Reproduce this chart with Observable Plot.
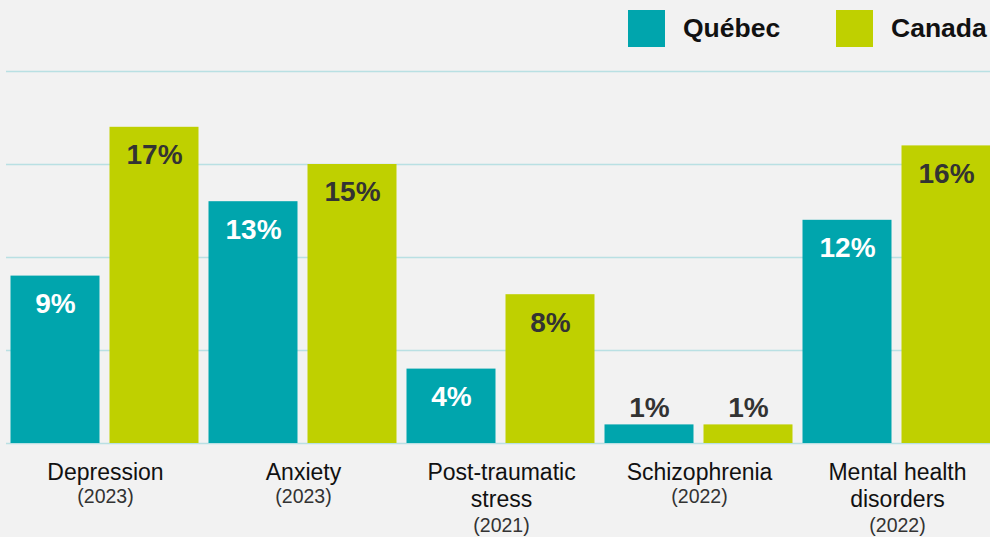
<!DOCTYPE html>
<html><head><meta charset="utf-8">
<script src="https://cdn.jsdelivr.net/npm/d3@7"></script>
<script src="https://cdn.jsdelivr.net/npm/@observablehq/plot@0.6"></script>
<style>
html,body{margin:0;padding:0;background:#f2f2f2;overflow:hidden;}
#wrap{width:990px;height:537px;overflow:hidden;position:relative;font-family:"Liberation Sans",Arial,Helvetica,sans-serif;}
#legend{position:relative;height:56px;}
.sw{position:absolute;top:10px;width:37px;height:37px;}
.lt{position:absolute;top:15px;font-size:26.5px;line-height:26px;font-weight:bold;color:#111;white-space:nowrap;}
#chart svg{display:block;}
</style></head>
<body><div id="wrap"><div id="legend"></div><div id="chart"></div></div>
<script>
// ---- data ----
const categories = ["Depression", "Anxiety", "Post-traumatic stress", "Schizophrenia", "Mental health disorders"];
const names = ["Depression", "Anxiety", "Post-traumatic\nstress", "Schizophrenia", "Mental health\ndisorders"];
const years = ["(2023)", "(2023)", "(2021)", "(2022)", "(2022)"];
const series = ["Québec", "Canada"];
const quebec = [9, 13, 4, 1, 12];
const canada = [17, 15, 8, 1, 16];
const gridTicks = [0, 5, 10, 15, 20];
const colors = ["#00a5ad", "#bfd000"];

// ---- tables ----
const rows = categories.flatMap((c, i) => [
  {cat: c, series: series[0], value: quebec[i]},
  {cat: c, series: series[1], value: canada[i]}
]);
const labels = categories.map((c, i) => ({cat: c, name: names[i], year: years[i], lines: names[i].split("\n").length}));

// ---- legend ----
const legend = document.getElementById("legend");
const legendPos = [[628, 683], [836, 891]];
series.forEach((s, i) => {
  const sw = document.createElement("div");
  sw.className = "sw"; sw.style.left = legendPos[i][0] + "px"; sw.style.background = colors[i];
  const t = document.createElement("div");
  t.className = "lt"; t.style.left = legendPos[i][1] + "px"; t.textContent = s;
  legend.append(sw, t);
});

const font = "Liberation Sans, Arial, Helvetica, sans-serif";
const inside = d => d.value >= 3;

const chart = Plot.plot({
  width: 990,
  height: 481,
  marginTop: 15,
  marginBottom: 94,
  marginLeft: 5.5,
  marginRight: -6,
  style: {background: "transparent", fontFamily: font, overflow: "visible"},
  fx: {domain: categories, padding: 0, axis: null},
  x: {domain: series, paddingInner: 0.101, paddingOuter: 0.05, axis: null},
  y: {domain: [0, 20], axis: null},
  color: {domain: series, range: colors},
  marks: [
    Plot.ruleY(gridTicks, {stroke: "#b9e0e3", strokeWidth: 1.5}),
    Plot.barY(rows, {fx: "cat", x: "series", y: "value", fill: "series"}),
    Plot.text(rows.filter(d => d.series === series[0] && inside(d)), {
      fx: "cat", x: "series", y: "value", text: d => d.value + "%",
      dy: 28, fill: "white", fontSize: 28, fontWeight: "bold"
    }),
    Plot.text(rows.filter(d => d.series === series[1] && inside(d)), {
      fx: "cat", x: "series", y: "value", text: d => d.value + "%",
      dy: 28, fill: "#333", fontSize: 28, fontWeight: "bold"
    }),
    Plot.text(rows.filter(d => !inside(d)), {
      fx: "cat", x: "series", y: "value", text: d => d.value + "%",
      dy: -17, fill: "#333", fontSize: 28, fontWeight: "bold"
    }),
    Plot.text(labels, {
      fx: "cat", y: d => 0, text: "name", lineAnchor: "top",
      dy: 17, fontSize: 23, lineHeight: 1.18, fill: "#111"
    }),
    Plot.text(labels.filter(d => d.lines === 1), {
      fx: "cat", y: d => 0, text: "year", dy: 53.5, fontSize: 19.5, fill: "#333"
    }),
    Plot.text(labels.filter(d => d.lines === 2), {
      fx: "cat", y: d => 0, text: "year", dy: 82, fontSize: 19.5, fill: "#333"
    })
  ]
});
document.getElementById("chart").append(chart);
</script>
</body></html>
